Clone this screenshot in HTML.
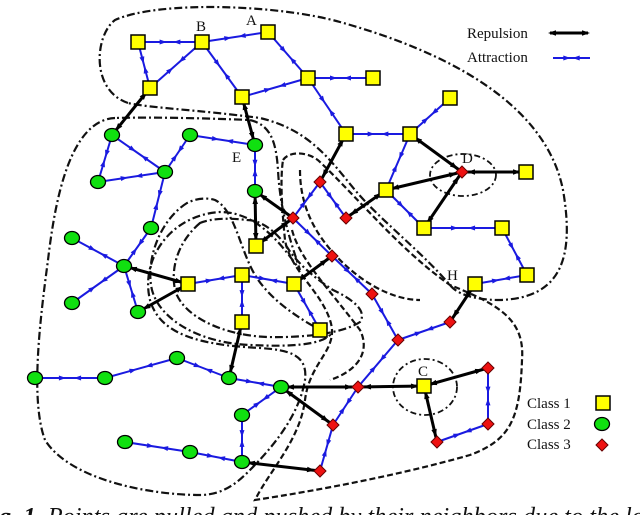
<!DOCTYPE html>
<html><head><meta charset="utf-8"><style>
html,body{margin:0;padding:0;background:#fff;width:640px;height:515px;overflow:hidden}
svg{position:absolute;left:0;top:0}
text{font-family:"Liberation Serif",serif;fill:#111}
</style></head><body>
<svg id="s" width="640" height="515" viewBox="0 0 640 515">
<g fill="none" stroke="#111" stroke-width="2.2">
<path stroke-dasharray="8,3,2,3" d="M128,103 C90,90 95,35 115,20 C160,0 280,5 340,22 C440,50 545,100 563,190 C575,260 560,298 500,300 C470,300 455,292 450,285 C420,250 380,220 355,190 C330,160 310,130 260,118 C200,110 150,108 128,103 Z"/>
<path stroke-dasharray="8,3,2,3" d="M115,118 C70,120 55,200 48,260 C40,320 30,400 45,440 C70,480 150,495 200,495 C225,495 240,480 250,470 C280,440 300,410 305,380 C308,355 290,350 260,348 C200,345 160,335 150,300 C140,260 170,215 220,212 C260,212 285,250 300,270 C290,240 280,210 278,170 C276,140 270,125 250,120 C200,118 150,117 115,118 Z"/>
<path stroke-dasharray="8,3,2,3" d="M187,203 C160,220 145,260 152,290 C160,320 200,343 250,345 C290,347 320,345 330,335 C300,320 270,300 255,275 C240,250 235,210 215,200 C205,197 195,199 187,203 Z"/>
<path stroke-dasharray="8,3,2,3" d="M200,223 C180,240 170,265 175,290 C182,315 220,335 267,337 C310,338 345,332 360,322 C368,310 350,298 333,290 C310,275 295,260 287,247 C275,230 260,220 247,220 C230,218 212,218 200,223 Z"/>
<path stroke-dasharray="6,3" d="M283,160 C290,150 310,152 320,162 C360,200 400,250 450,285 C500,305 525,320 522,360 C520,420 510,440 470,455 C400,475 320,490 255,500 C270,470 300,440 305,400 C310,360 340,350 330,320 C320,290 290,270 285,240 C282,210 280,180 283,160 Z"/>
<path stroke-dasharray="6,3" d="M300,170 C300,200 310,230 340,260 C370,290 400,300 420,300"/>
<path stroke-dasharray="6,3" d="M292,230 C300,260 330,290 360,330 C370,350 360,370 330,380"/>
<ellipse cx="463" cy="175" rx="33" ry="21" stroke-dasharray="6,3,2,3" stroke-width="1.8"/>
<ellipse cx="425" cy="387" rx="32" ry="28" stroke-dasharray="6,3,2,3" stroke-width="1.8"/>
</g>
<g id="e"></g><g id="n"></g>
<g font-size="15">
<text x="196" y="31">B</text><text x="246" y="25">A</text><text x="232" y="162">E</text>
<text x="462" y="163">D</text><text x="447" y="280">H</text><text x="418" y="376">C</text>
<text x="467" y="38">Repulsion</text><text x="467" y="62">Attraction</text>
<text x="527" y="408">Class 1</text><text x="527" y="429">Class 2</text><text x="527" y="449">Class 3</text>
</g>
<text x="-24" y="524" font-size="24" font-style="italic" textLength="668" lengthAdjust="spacingAndGlyphs"><tspan font-weight="bold">Fig. 1.</tspan> Points are pulled and pushed by their neighbors due to the lo</text>
</svg>
<script>
var N={Y1:[138,42],B:[202,42],A:[268,32],Y4:[150,88],Y5:[242,97],Y6:[308,78],Y7:[373,78],Y8:[346,134],Y9:[410,134],Y10:[450,98],Y11:[526,172],Y12:[386,190],Y13:[424,228],Y14:[502,228],Y15:[527,275],H:[475,284],C:[424,386],Y18:[256,246],Y19:[188,284],Y20:[242,275],Y21:[294,284],Y22:[320,330],Y23:[242,322],
G1:[112,135],G2:[190,135],E:[255,145],G4:[98,182],G5:[165,172],G6:[255,191],G7:[151,228],G8:[72,238],G9:[124,266],G10:[72,303],G11:[138,312],G12:[35,378],G13:[105,378],G14:[177,358],G15:[229,378],G16:[281,387],G17:[242,415],G18:[125,442],G19:[190,452],G20:[242,462],
R1:[320,182],R2:[293,218],R3:[346,218],R4:[462,172],R5:[332,256],R6:[372,294],R7:[398,340],R8:[450,322],R9:[358,387],R10:[333,425],R11:[488,368],R12:[488,424],R13:[437,442],R14:[320,471]};
var blue="Y1-B B-A Y1-Y4 B-Y4 B-Y5 A-Y6 Y5-Y6 Y6-Y7 Y6-Y8 Y8-Y9 Y9-Y10 Y9-Y12 Y12-Y13 Y13-Y14 Y14-Y15 H-Y15 G1-G4 G1-G5 G4-G5 G2-G5 G2-E E-G6 G5-G7 G7-G9 G8-G9 G10-G9 G9-G11 Y19-Y20 Y20-Y21 Y20-Y23 Y21-Y22 G12-G13 G13-G14 G14-G15 G15-G16 G16-G17 G17-G20 G18-G19 G19-G20 R11-R12 R12-R13 R14-R10 R10-R9 R9-R7 R7-R8 R7-R6 R6-R5 R5-R2 R2-R1 R1-R3".split(" ");
var black="Y4-G1 E-Y5 G6-Y18 G6-R2 Y18-R2 R1-Y8 R3-Y12 Y12-R4 Y9-R4 R4-Y11 Y13-R4 G9-Y19 G11-Y19 Y23-G15 R5-Y21 G20-R14 G16-R9 G16-R10 R9-C C-R11 C-R13 R8-H".split(" ");
var s="";
function tri(x,y,ux,uy,sz,c){var px=-uy,py=ux;return '<polygon fill="'+c+'" points="'+(x+ux*sz)+','+(y+uy*sz)+' '+(x-ux*sz*0.6+px*sz*0.55)+','+(y-uy*sz*0.6+py*sz*0.55)+' '+(x-ux*sz*0.6-px*sz*0.55)+','+(y-uy*sz*0.6-py*sz*0.55)+'"/>';}
blue.forEach(function(k){var p=k.split("-"),a=N[p[0]],b=N[p[1]];var dx=b[0]-a[0],dy=b[1]-a[1],L=Math.hypot(dx,dy),ux=dx/L,uy=dy/L;
s+='<line x1="'+a[0]+'" y1="'+a[1]+'" x2="'+b[0]+'" y2="'+b[1]+'" stroke="#1a1ae0" stroke-width="2"/>';
s+=tri(a[0]+dx*0.38,a[1]+dy*0.38,ux,uy,4.5,"#1a1ae0")+tri(a[0]+dx*0.62,a[1]+dy*0.62,-ux,-uy,4.5,"#1a1ae0");});
black.forEach(function(k){var p=k.split("-"),a=N[p[0]],b=N[p[1]];var dx=b[0]-a[0],dy=b[1]-a[1],L=Math.hypot(dx,dy),ux=dx/L,uy=dy/L;
s+='<line x1="'+a[0]+'" y1="'+a[1]+'" x2="'+b[0]+'" y2="'+b[1]+'" stroke="#000" stroke-width="3"/>';
s+=tri(a[0]+ux*10,a[1]+uy*10,-ux,-uy,5,"#000")+tri(b[0]-ux*10,b[1]-uy*10,ux,uy,5,"#000");});
s+='<line x1="550" y1="33" x2="588" y2="33" stroke="#000" stroke-width="3"/>'+tri(553,33,-1,0,5,"#000")+tri(585,33,1,0,5,"#000");
s+='<line x1="553" y1="58" x2="590" y2="58" stroke="#1a1ae0" stroke-width="2"/>'+tri(566,58,1,0,4.5,"#1a1ae0")+tri(577,58,-1,0,4.5,"#1a1ae0");
document.getElementById("e").innerHTML=s;
var t="";
function sq(x,y){return '<rect x="'+(x-7)+'" y="'+(y-7)+'" width="14" height="14" fill="#ffff00" stroke="#000" stroke-width="1.5"/>';}
function ci(x,y){return '<ellipse cx="'+x+'" cy="'+y+'" rx="7.5" ry="6.5" fill="#10e010" stroke="#000" stroke-width="1.3"/>';}
function di(x,y){return '<polygon points="'+x+','+(y-6)+' '+(x+6)+','+y+' '+x+','+(y+6)+' '+(x-6)+','+y+'" fill="#ee1111" stroke="#600" stroke-width="1"/>';}
for(var k in N){var p=N[k];if(k[0]=="Y"||k=="A"||k=="B"||k=="H"||k=="C")t+=sq(p[0],p[1]);else if(k[0]=="G"||k=="E")t+=ci(p[0],p[1]);else t+=di(p[0],p[1]);}
t+=sq(603,403)+ci(602,424)+di(602,445);
document.getElementById("n").innerHTML=t;
</script>
</body></html>
